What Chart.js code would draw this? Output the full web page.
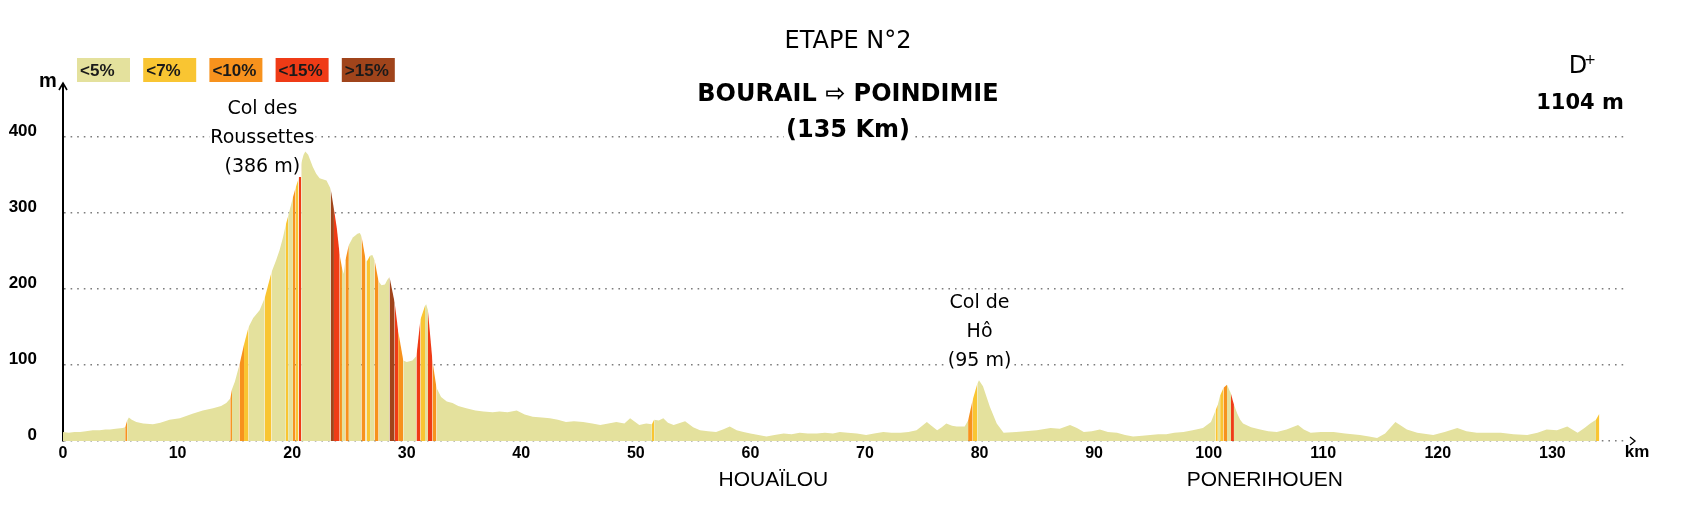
<!DOCTYPE html>
<html>
<head>
<meta charset="utf-8">
<script src="https://cdn.jsdelivr.net/npm/chart.js@4/dist/chart.umd.min.js"></script>
<style>
  html, body { margin: 0; padding: 0; background: #fff; }
  #wrap { width: 1705px; height: 522px; position: relative; }
</style>
</head>
<body>
<div id="wrap"><canvas id="profile"></canvas></div>
<script>
/* ===============================
   DATA
================================ */
const km = [
  0, 0.5, 1, 1.5, 2, 2.6, 3.2, 3.7, 4.1, 4.6, 5.2, 5.43, 5.6, 5.75, 6.0, 6.4, 7.0, 7.85, 8.5, 9.3,
  10.2, 11.3, 12.2, 13.1, 13.8, 14.25, 14.6, 14.75, 15.0, 15.27, 15.4, 15.8, 16.2, 16.6, 17.16, 17.6, 17.9, 18.2,
  18.6, 18.9, 19.2, 19.45, 19.65, 20.07, 20.3, 20.55, 20.6, 20.8, 21.0, 21.15, 21.4, 21.8, 22.1, 22.4, 23.0,
  23.36, 23.65, 23.9, 24.15, 24.35, 24.5, 24.65, 24.95, 25.3, 25.7, 25.9, 26.05, 26.4, 26.5, 26.8, 27.0, 27.2,
  27.55, 27.8, 28.1, 28.3, 28.5, 28.95, 29.25, 29.7, 30.0, 30.5, 30.85, 31.2, 31.6, 31.7, 31.85, 32.25, 32.6,
  33.0, 33.5, 34.0, 34.5, 35.2, 36.0, 36.7, 37.5, 38.1, 38.8, 39.6, 40.3, 41.0, 41.8, 42.5, 43.2, 43.9, 44.6,
  45.4, 46.2, 46.9, 47.6, 48.3, 49.0, 49.5, 50.3, 50.9, 51.4, 51.6, 52.0, 52.4, 52.8, 53.3, 53.9, 54.3, 55.0,
  55.6, 56.3, 57.0, 57.6, 58.2, 58.8, 59.4, 60.0, 60.7, 61.4, 62.1, 62.9, 63.6, 64.3, 65.0, 65.8, 66.5, 67.2,
  67.8, 68.5, 69.3, 70.1, 70.8, 71.6, 72.3, 73.1, 73.8, 74.5, 75.0, 75.4, 75.8, 76.3, 76.7, 77.1, 77.6, 78.0,
  78.7, 79.0, 79.4, 79.8, 79.95, 80.3, 80.9, 81.5, 82.1, 83.2, 84.0, 85.0, 86.2, 87.0, 87.9, 88.5, 89.1, 89.8,
  90.5, 91.2, 92.0, 92.7, 93.4, 94.2, 94.9, 95.6, 96.3, 97.0, 97.8, 98.6, 99.5, 100.2, 100.6, 100.8, 101.0,
  101.3, 101.6, 101.95, 102.2, 102.5, 102.75, 103.0, 103.7, 104.5, 105.2, 105.95, 106.8, 107.8, 108.3, 108.9,
  109.8, 110.9, 111.9, 113.2, 114.0, 114.7, 115.4, 116.3, 116.8, 117.3, 118.2, 119.6, 120.6, 121.7, 122.5,
  123.4, 124.4, 125.5, 126.6, 127.8, 128.7, 129.5, 130.4, 131.3, 132.2, 132.8, 133.3, 133.8, 134.1
];
const elevation = [
  12, 11, 12, 12, 13, 14, 14, 15, 15, 16, 17, 18, 27, 31, 28, 25, 23, 22, 24, 28,
  30, 36, 40, 43, 46, 50, 56, 68, 78, 93, 100, 127, 150, 162, 172, 188, 205, 222,
  238, 251, 268, 285, 296, 321, 333, 345, 350, 366, 377, 381, 377, 361, 352, 346, 343,
  332, 305, 280, 245, 228, 220, 238, 258, 268, 273, 274, 270, 240, 236, 244, 245, 238,
  210, 205, 206, 212, 216, 182, 145, 106, 104, 106, 112, 160, 178, 180, 172, 105, 70,
  58, 52, 50, 46, 43, 40, 39, 38, 39, 38, 40, 35, 32, 31, 30, 28, 25, 26,
  25, 23, 21, 23, 25, 23, 30, 21, 23, 22, 28, 27, 30, 24, 21, 24, 26, 18,
  14, 13, 12, 15, 19, 14, 12, 10, 8, 6, 8, 10, 9, 11, 10, 10, 11, 10,
  12, 11, 10, 8, 10, 12, 11, 11, 12, 14, 20, 25, 20, 14, 18, 23, 20, 19,
  19, 27, 54, 75, 80, 72, 45, 23, 11, 12, 13, 14, 17, 16, 21, 17, 12, 13,
  15, 12, 11, 8, 6, 7, 8, 9, 9, 11, 12, 14, 17, 25, 40, 48, 60,
  70, 74, 62, 48, 36, 28, 23, 18, 15, 13, 12, 15, 21, 15, 11,
  12, 12, 10, 8, 6, 4, 10, 25, 20, 15, 11, 8, 12, 17, 13,
  11, 11, 11, 9, 8, 11, 15, 14, 19, 11, 17, 23, 28, 36
];

// gradient classes (legend)
const gradeLabels = ['<5%', '<7%', '<10%', '<15%', '>15%'];
const gradeColors = ['#e4e19d', '#f9c532', '#f7921d', '#ef3b16', '#a0441b'];

// coloured stretches: [from km, to km, class]
const gradeBands = [
  [5.43, 5.6, 2], [14.6, 14.75, 2], [15.4, 15.8, 2], [15.8, 16.2, 1], [17.6, 18.2, 1],
  [19.45, 19.65, 1], [20.07, 20.3, 2], [20.3, 20.55, 1], [20.6, 20.8, 3],
  [23.36, 23.65, 4], [23.65, 24.15, 3], [24.15, 24.35, 2], [24.65, 24.95, 2],
  [26.05, 26.4, 2], [26.5, 26.8, 1], [27.2, 27.55, 2], [28.5, 28.95, 4], [28.95, 29.25, 3],
  [29.25, 29.7, 2], [30.85, 31.2, 3], [31.2, 31.6, 1], [31.85, 32.25, 3], [32.25, 32.6, 2],
  [51.4, 51.6, 1], [79.0, 79.4, 2], [79.4, 79.8, 1], [100.6, 100.8, 1], [101.0, 101.3, 1],
  [101.3, 101.6, 2], [101.95, 102.2, 3], [133.8, 134.1, 1]
];

const xTicks = [0, 10, 20, 30, 40, 50, 60, 70, 80, 90, 100, 110, 120, 130];
const yTicks = [0, 100, 200, 300, 400];

const cols = [
  { km: 17.4, lines: ['Col des', 'Roussettes', '(386 m)'] },
  { km: 80.0, lines: ['Col de', 'Hô', '(95 m)'] }
];
const towns = [
  { km: 62.0, name: 'HOUAÏLOU' },
  { km: 104.9, name: 'PONERIHOUEN' }
];

/* ===============================
   HELPERS
================================ */
function gradeAt(x) {
  const b = gradeBands.find(b => x >= b[0] && x < b[1]);
  return b ? b[2] : 0;
}

const TITLE_FONT = '"DejaVu Sans", sans-serif';
const AXIS_FONT = '"Liberation Sans", Arial, sans-serif';

/* ===============================
   DECORATIONS (legend, titles, arrows)
================================ */
const decorations = {
  id: 'decorations',
  afterDraw(chart) {
    const ctx = chart.ctx;
    const area = chart.chartArea;
    const xs = chart.scales.x;
    const ys = chart.scales.y;
    ctx.save();

    // legend boxes
    gradeLabels.forEach((lab, i) => {
      const bx = 77 + i * 66.2;
      ctx.fillStyle = gradeColors[i];
      ctx.fillRect(bx, 58, 53, 24);
      ctx.fillStyle = '#1a1a1a';
      ctx.font = 'bold 17px ' + AXIS_FONT;
      ctx.textAlign = 'left';
      ctx.textBaseline = 'middle';
      ctx.fillText(lab, bx + 3, 71);
    });

    // y axis arrow + unit
    ctx.strokeStyle = '#000';
    ctx.lineWidth = 1.6;
    ctx.beginPath();
    ctx.moveTo(area.left - 4, area.top + 6);
    ctx.lineTo(area.left, area.top - 1);
    ctx.lineTo(area.left + 4, area.top + 6);
    ctx.stroke();
    ctx.fillStyle = '#000';
    ctx.font = 'bold 20px ' + AXIS_FONT;
    ctx.textAlign = 'center';
    ctx.textBaseline = 'middle';
    ctx.fillText('m', 48, 81);

    // x axis arrow + unit
    const y0 = ys.getPixelForValue(0);
    ctx.lineWidth = 1.3;
    ctx.beginPath();
    ctx.moveTo(area.right + 2, y0 - 4);
    ctx.lineTo(area.right + 7, y0);
    ctx.lineTo(area.right + 2, y0 + 4);
    ctx.stroke();
    ctx.font = 'bold 17px ' + AXIS_FONT;
    ctx.fillText('km', area.right + 9, y0 + 11);

    // titles
    ctx.font = '24px ' + TITLE_FONT;
    ctx.fillText('ETAPE N°2', 848, 42);
    ctx.font = 'bold 24px ' + TITLE_FONT;
    ctx.fillText('BOURAIL ⇨ POINDIMIE', 848, 95);
    let w = ctx.measureText('(135 Km)').width;
    ctx.fillStyle = '#fff';
    ctx.fillRect(848 - w / 2 - 2, 121, w + 4, 22);
    ctx.fillStyle = '#000';
    ctx.fillText('(135 Km)', 848, 131);

    ctx.font = '24px ' + TITLE_FONT;
    ctx.fillText('D', 1578, 67);
    ctx.font = '14px ' + TITLE_FONT;
    ctx.fillText('+', 1590, 60);
    ctx.font = 'bold 21px ' + TITLE_FONT;
    ctx.fillText('1104 m', 1580, 104);

    // col annotations
    ctx.font = '19px ' + TITLE_FONT;
    cols.forEach(c => {
      const cx = xs.getPixelForValue(c.km);
      const top = c.km < 50 ? 109 : 303;
      c.lines.forEach((t, i) => {
        const ty = top + i * 29;
        w = ctx.measureText(t).width;
        ctx.fillStyle = '#fff';
        ctx.fillRect(cx - w / 2 - 1, ty - 10, w + 2, 20);
        ctx.fillStyle = '#000';
        ctx.fillText(t, cx, ty);
      });
    });

    // towns
    ctx.font = '21px ' + AXIS_FONT;
    towns.forEach(t => {
      ctx.fillText(t.name, xs.getPixelForValue(t.km), 480);
    });

    ctx.restore();
  }
};

/* ===============================
   CHART
================================ */
const points = km.map((x, i) => ({ x: x, y: elevation[i] }));

new Chart(document.getElementById('profile'), {
  type: 'line',
  data: {
    datasets: [{
      data: points,
      fill: 'origin',
      backgroundColor: gradeColors[0],
      borderWidth: 0,
      pointRadius: 0,
      tension: 0,
      segment: {
        backgroundColor: c => gradeColors[gradeAt((c.p0.parsed.x + c.p1.parsed.x) / 2)]
      }
    }]
  },
  options: {
    responsive: true,
    maintainAspectRatio: false,
    animation: false,
    layout: { padding: { left: 0, right: 77, top: 84, bottom: 0 } },
    plugins: {
      legend: { display: false },
      tooltip: { enabled: false }
    },
    scales: {
      x: {
        type: 'linear',
        min: 0,
        max: 136.6,
        afterBuildTicks: s => { s.ticks = xTicks.map(v => ({ value: v })); },
        afterFit: s => { s.height = 81; },
        grid: { display: false, drawTicks: false },
        border: { display: false },
        ticks: {
          autoSkip: false,
          maxRotation: 0,
          padding: 3,
          color: '#000',
          font: { family: AXIS_FONT, size: 16, weight: 'bold' }
        }
      },
      y: {
        min: 0,
        max: 470,
        afterBuildTicks: s => { s.ticks = yTicks.map(v => ({ value: v })); },
        afterFit: s => { s.width = 63; },
        grid: { color: '#7d7d7d', lineWidth: 1.6, drawTicks: false },
        border: { display: true, color: '#000', width: 2, dash: [1.6, 5] },
        ticks: {
          padding: 26,
          labelOffset: -6,
          color: '#000',
          font: { family: AXIS_FONT, size: 17, weight: 'bold' }
        }
      }
    }
  },
  plugins: [decorations]
});
</script>
</body>
</html>
